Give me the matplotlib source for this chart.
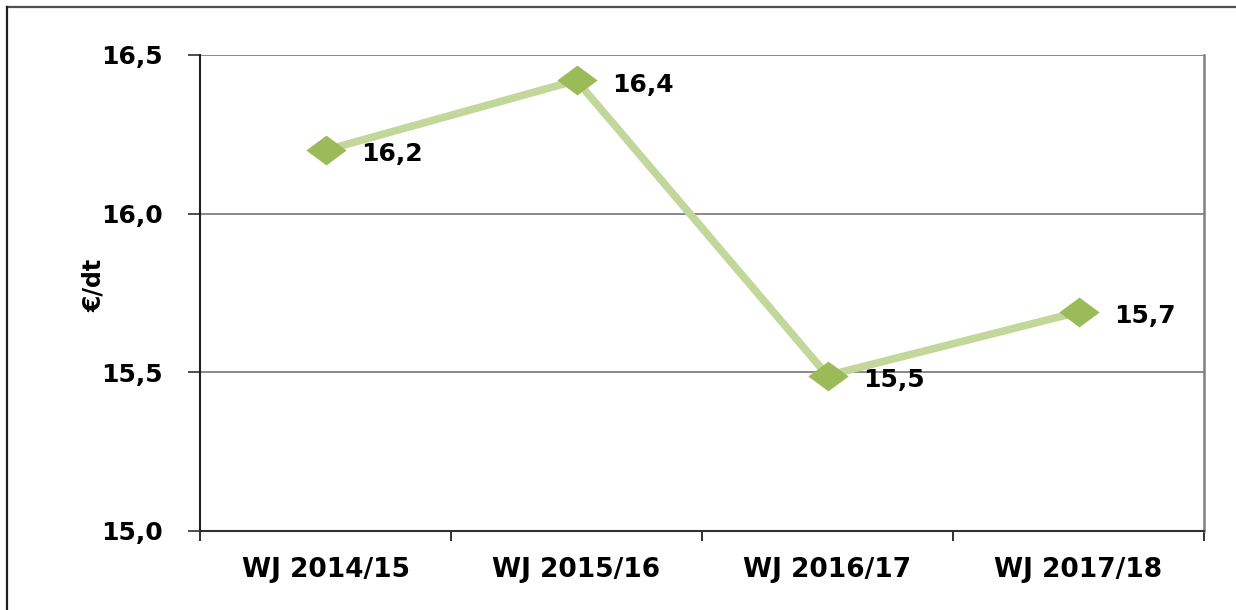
import numpy as np
import matplotlib
matplotlib.use("Agg")
import matplotlib.pyplot as plt
import matplotlib.lines as mlines
from matplotlib.ticker import FuncFormatter, FixedLocator

years = ["WJ 2014/15", "WJ 2015/16", "WJ 2016/17", "WJ 2017/18"]
prices = [16.2, 16.42, 15.49, 15.69]
labels = ["16,2", "16,4", "15,5", "15,7"]

plt.rcParams['font.family'] = ['DejaVu Sans']
plt.rcParams['font.weight'] = 'bold'

fig = plt.figure(figsize=(12.36, 6.10), dpi=100)
ax = fig.add_axes([200/1236, 79/610, 1004/1236, 476/610])

x = np.arange(len(years))
diamond = [(-1, 0), (0, 0.74), (1, 0), (0, -0.74), (-1, 0)]
ax.plot(x, prices, color='#C4D79B', lw=5.5, solid_capstyle='round', zorder=3)
ax.plot(x, prices, ls='none', marker=diamond, ms=29, color='#9BBB59',
        markeredgewidth=0, zorder=4)

for xi, yi, t in zip(x, prices, labels):
    ax.annotate(t, (xi, yi), xytext=(26, -3), textcoords='offset points',
                ha='left', va='center', fontsize=18, fontweight='bold', zorder=5)

ax.set_xlim(-0.5, len(years) - 0.5)
ax.set_ylim(15.0, 16.5)
ax.set_yticks([15.0, 15.5, 16.0, 16.5])
ax.yaxis.set_major_formatter(FuncFormatter(lambda v, p: f"{v:.1f}".replace('.', ',')))
ax.yaxis.grid(True, color='#808080', lw=1.3)
ax.set_axisbelow(True)

ax.set_xticks(x)
ax.set_xticklabels(years)
ax.xaxis.set_minor_locator(FixedLocator(np.arange(-0.5, len(years), 1.0)))
ax.tick_params(axis='x', which='major', length=0, pad=19, labelsize=19)
ax.tick_params(axis='x', which='minor', length=7, width=1.3, color='#202020')
ax.tick_params(axis='y', length=9, width=1.3, pad=18, labelsize=18, color='#404040')

ax.spines['top'].set_visible(False)
ax.spines['left'].set_color('#202020')
ax.spines['left'].set_linewidth(1.5)
ax.spines['bottom'].set_color('#303030')
ax.spines['bottom'].set_linewidth(1.5)
ax.spines['right'].set_color('#808080')
ax.spines['right'].set_linewidth(1.8)

ax.set_ylabel("€/dt", fontsize=17, fontweight='bold')
ax.yaxis.set_label_coords(-0.094, 0.515)

# outer frame (top and left edges)
fig.add_artist(mlines.Line2D([7/1236, 1235/1236], [1 - 7/610, 1 - 7/610],
                             color='#505050', lw=1.6, transform=fig.transFigure))
fig.add_artist(mlines.Line2D([7/1236, 7/1236], [0, 1 - 7/610],
                             color='#202020', lw=1.6, transform=fig.transFigure))

fig.savefig('out.png', dpi=100)
